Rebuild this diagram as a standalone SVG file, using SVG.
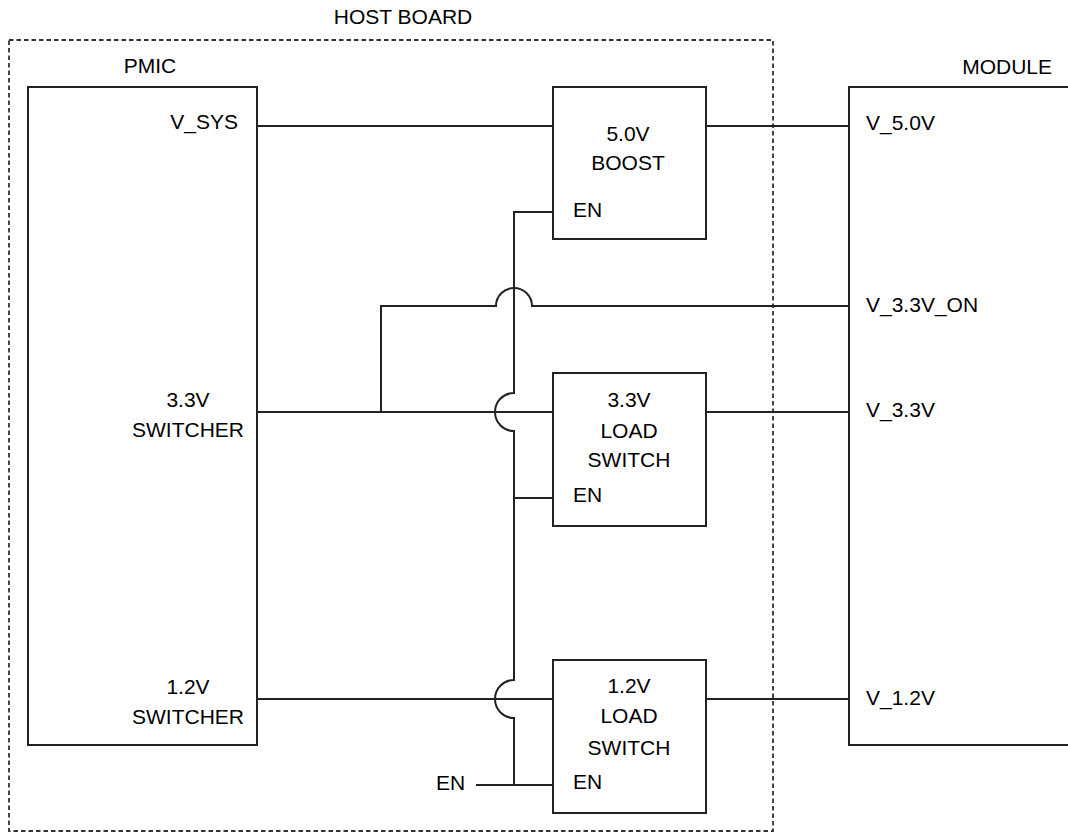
<svg xmlns="http://www.w3.org/2000/svg" width="1068" height="832" viewBox="0 0 1068 832">
<style>
.box{fill:none;stroke:#222;stroke-width:2}
.w{fill:none;stroke:#222;stroke-width:2}
.dash{fill:none;stroke:#333;stroke-width:1.8;stroke-dasharray:4.5 3}
text{font-family:"Liberation Sans",Arial,sans-serif;font-size:21px;fill:#000}
.c{text-anchor:middle}
.r{text-anchor:end}
</style>
<rect width="1068" height="832" fill="#fff"/>
<g id="host-board">
<rect class="dash" x="9" y="40" width="764" height="791"/>
<text class="c" x="403" y="24">HOST BOARD</text>
</g>
<g id="pmic">
<rect class="box" x="28" y="87" width="229" height="658"/>
<text class="c" x="150" y="73">PMIC</text>
<text class="r" x="238" y="129">V_SYS</text>
<text class="c" x="188" y="407">3.3V</text>
<text class="c" x="188" y="437">SWITCHER</text>
<text class="c" x="188" y="694">1.2V</text>
<text class="c" x="188" y="724">SWITCHER</text>
</g>
<g id="boost">
<rect class="box" x="553" y="87" width="153" height="152"/>
<text class="c" x="628" y="141">5.0V</text>
<text class="c" x="628" y="170">BOOST</text>
<text x="573" y="217">EN</text>
</g>
<g id="ls33">
<rect class="box" x="553" y="373" width="153" height="153"/>
<text class="c" x="629" y="407">3.3V</text>
<text class="c" x="629" y="438">LOAD</text>
<text class="c" x="629" y="467">SWITCH</text>
<text x="573" y="502">EN</text>
</g>
<g id="ls12">
<rect class="box" x="553" y="660" width="153" height="153"/>
<text class="c" x="629" y="693">1.2V</text>
<text class="c" x="629" y="723">LOAD</text>
<text class="c" x="629" y="755">SWITCH</text>
<text x="573" y="789">EN</text>
</g>
<g id="module">
<path class="box" d="M1070,87 H849 V745 H1070"/>
<text class="r" x="1052" y="74">MODULE</text>
<text x="866" y="130">V_5.0V</text>
<text x="866" y="312">V_3.3V_ON</text>
<text x="866" y="417">V_3.3V</text>
<text x="866" y="705">V_1.2V</text>
</g>
<g id="en-input">
<text x="436" y="790">EN</text>
</g>
<g id="connectors">
<path class="w" d="M257,126 H553"/>
<path class="w" d="M706,126 H849"/>
<path class="w" d="M381,412 V306 H496 A18,18 0 0 1 532,306 H849"/>
<path class="w" d="M257,412 H553"/>
<path class="w" d="M706,412 H849"/>
<path class="w" d="M257,699 H553"/>
<path class="w" d="M706,699 H849"/>
<path class="w" d="M553,212 H514 V393 A19,19 0 0 0 514,431 V680 A19,19 0 0 0 514,718 V785"/>
<path class="w" d="M514,498 H553"/>
<path class="w" d="M476,785 H553"/>
</g>
</svg>
